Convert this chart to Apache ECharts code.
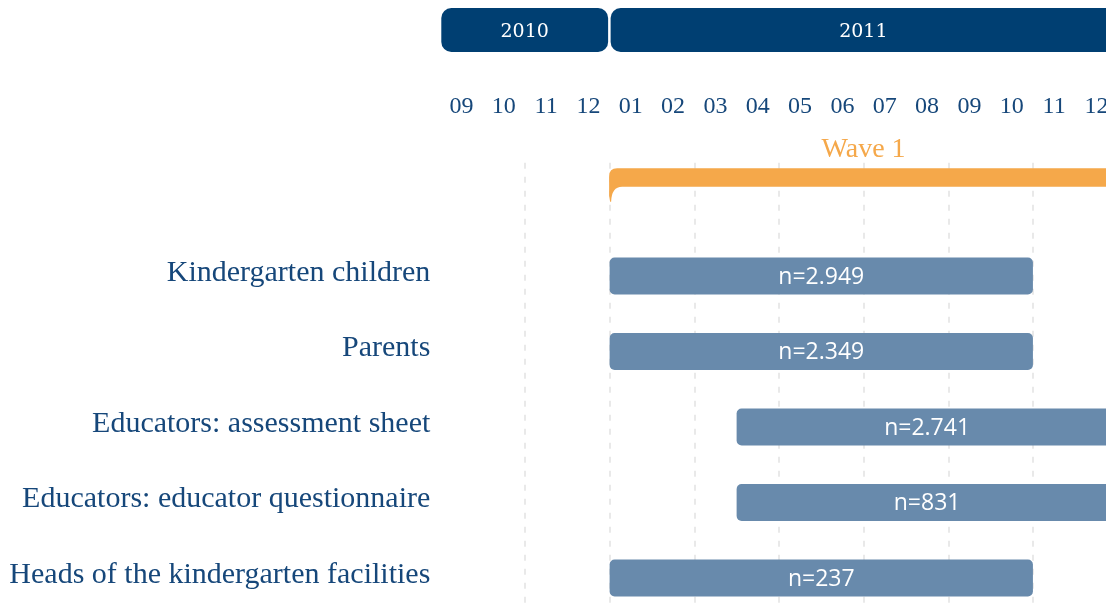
<!DOCTYPE html>
<html>
<head>
<meta charset="UTF-8">
<script src="https://cdn.jsdelivr.net/npm/echarts@6/dist/echarts.min.js"></script>
<style>
html, body { margin: 0; padding: 0; background: #fff; }
#main { width: 1106px; height: 610px; }
</style>
</head>
<body>
<div id="main"></div>
<script>
// months from 2010-09 to 2011-12, x value = months since start of 2010-09
var months = ['09', '10', '11', '12', '01', '02', '03', '04', '05', '06', '07', '08', '09', '10', '11', '12'];
var years = ['2010', '2011'];
var yearStart = [0, 4];
var yearEnd = [4, 16];

var groups = ['Kindergarten children', 'Parents', 'Educators: assessment sheet',
    'Educators: educator questionnaire', 'Heads of the kindergarten facilities'];
var starts = [4, 4, 7, 7, 4];
var ends = [14, 14, 16, 16, 14];
var sizes = ['n=2.949', 'n=2.349', 'n=2.741', 'n=831', 'n=237'];

var waveName = 'Wave 1';
var waveStart = 4;
var waveEnd = 16;

var BLUE = '#003f72';
var TEXT = '#16477a';
var BAR = '#688aac';
var ORANGE = '#f5a84a';
var SERIF = '"Liberation Serif", "DejaVu Serif", serif';

var MONTH_PX = 42.33;
var LEFT = 440.3;

var yearData = years.map(function (y, i) { return [yearStart[i], yearEnd[i], 0, y]; });
var barData = groups.map(function (g, i) { return [starts[i], ends[i], i + 1, sizes[i]]; });

var chart = echarts.init(document.getElementById('main'));
chart.setOption({
    animation: false,
    grid: [
        { left: LEFT, width: MONTH_PX * 16, top: 162.75, height: 453, outerBoundsMode: 'none', containLabel: false },
        { left: LEFT, width: MONTH_PX * 16, top: 8, height: 44, outerBoundsMode: 'none', containLabel: false }
    ],
    xAxis: [
        {
            type: 'value', gridIndex: 0, min: 0, max: 16, interval: 2,
            axisLine: { show: false }, axisTick: { show: false }, axisLabel: { show: false },
            splitLine: { show: true, showMinLine: false, lineStyle: { color: '#e2e2e2', width: 1.5, type: [6, 8] } }
        },
        {
            type: 'category', gridIndex: 0, position: 'top', data: months, boundaryGap: true,
            axisLine: { show: false }, axisTick: { show: false }, splitLine: { show: false },
            axisLabel: { interval: 0, margin: 56, verticalAlign: 'middle', color: TEXT, fontFamily: SERIF, fontSize: 24 }
        },
        { type: 'value', gridIndex: 1, min: 0, max: 16, show: false }
    ],
    yAxis: [
        {
            type: 'category', gridIndex: 0, inverse: true, data: [''].concat(groups),
            axisLine: { show: false }, axisTick: { show: false }, splitLine: { show: false },
            axisLabel: { margin: 10, color: TEXT, fontFamily: SERIF, fontSize: 30, verticalAlign: 'bottom', lineHeight: 6 }
        },
        { type: 'category', gridIndex: 1, data: ['year'], show: false }
    ],
    series: [
        {
            type: 'custom', xAxisIndex: 2, yAxisIndex: 1, data: yearData, silent: true,
            renderItem: function (params, api) {
                var a = api.coord([api.value(0), 0]);
                var b = api.coord([api.value(1), 0]);
                var h = api.size([0, 1])[1];
                var x0 = a[0] + 1, x1 = b[0] - 1.5;
                return {
                    type: 'group',
                    children: [
                        { type: 'rect', shape: { x: x0, y: a[1] - h / 2, width: x1 - x0, height: h, r: 10 },
                          style: { fill: BLUE } },
                        { type: 'text', x: (x0 + x1) / 2, y: a[1] + 2.5,
                          style: { text: api.value(3), fill: '#fff', font: '19px "DejaVu Serif", serif', align: 'center', verticalAlign: 'middle' } }
                    ]
                };
            }
        },
        {
            type: 'custom', xAxisIndex: 0, yAxisIndex: 0, silent: true, data: [[waveStart, waveEnd, 0, waveName]],
            renderItem: function (params, api) {
                var a = api.coord([api.value(0), 0]);
                var b = api.coord([api.value(1), 0]);
                var band = api.size([0, 1])[1];
                var x0 = a[0] - 0.5, x1 = b[0];
                var yTop = a[1] - band / 2 + 5.5;
                var yBot = yTop + 18.5;
                var yTail = yBot + 15;
                var d = 'M' + x0 + ',' + (yTop + 8) +
                    ' Q' + x0 + ',' + yTop + ' ' + (x0 + 8) + ',' + yTop +
                    ' L' + x1 + ',' + yTop +
                    ' L' + x1 + ',' + yBot +
                    ' L' + (x0 + 13) + ',' + yBot +
                    ' Q' + (x0 + 2.5) + ',' + yBot + ' ' + (x0 + 2) + ',' + yTail +
                    ' L' + (x0 + 1) + ',' + yTail +
                    ' L' + x0 + ',' + (yTail - 6) + ' Z';
                return {
                    type: 'group',
                    children: [
                        { type: 'path', shape: { pathData: d, x: x0, y: yTop, width: x1 - x0, height: yTail - yTop, layout: 'cover' },
                          style: { fill: ORANGE } },
                        { type: 'text', x: (a[0] + b[0]) / 2, y: yTop - 19,
                          style: { text: api.value(3), fill: ORANGE, font: '28px ' + SERIF, align: 'center', verticalAlign: 'middle' } }
                    ]
                };
            }
        },
        {
            type: 'custom', xAxisIndex: 0, yAxisIndex: 0, silent: true, data: barData,
            renderItem: function (params, api) {
                var a = api.coord([api.value(0), api.value(2)]);
                var b = api.coord([api.value(1), api.value(2)]);
                var h = 37;
                return {
                    type: 'group',
                    children: [
                        { type: 'rect', shape: { x: a[0], y: a[1] - h / 2, width: b[0] - a[0], height: h, r: 5 },
                          style: { fill: BAR } },
                        { type: 'text', x: (a[0] + b[0]) / 2, y: a[1] + 1,
                          style: { text: api.value(3), fill: '#fff', font: '23px "Open Sans", sans-serif', align: 'center', verticalAlign: 'middle' } }
                    ]
                };
            }
        }
    ]
});
</script>
</body>
</html>
